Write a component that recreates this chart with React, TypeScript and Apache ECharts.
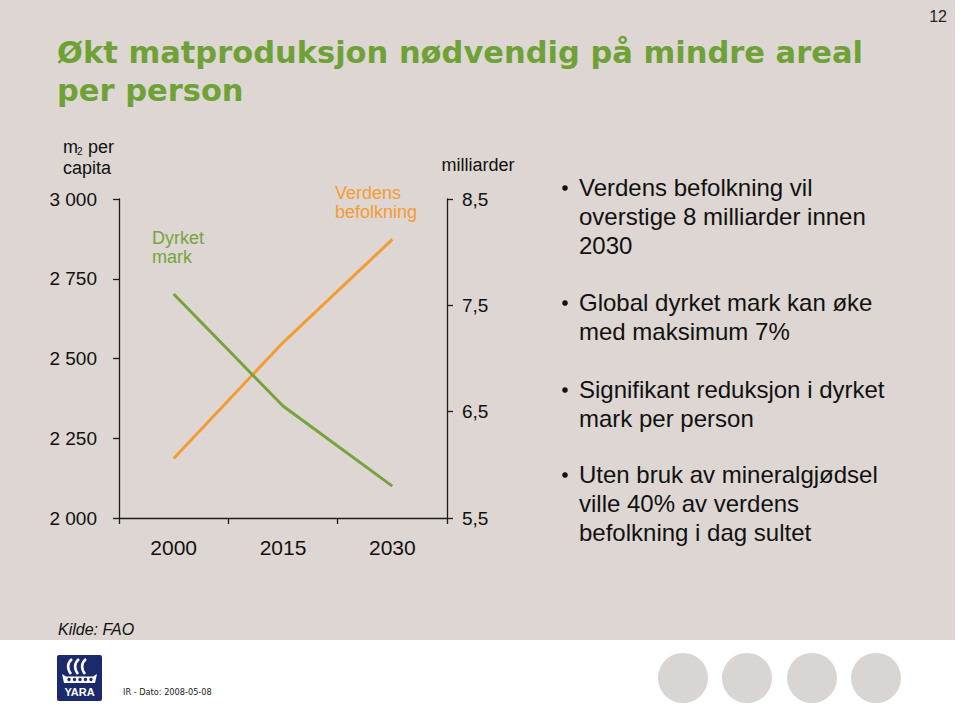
import React, { useEffect, useRef } from "react";
import * as echarts from "echarts";

// ---- data ----
const years = ["2000", "2015", "2030"];
const dyrketMark = [2702, 2351, 2100]; // m2 per capita (left axis)
const befolkning = [6.06, 7.15, 8.12]; // milliarder (right axis)
const leftMin = 2000;
const leftMax = 3000;
const leftInterval = 250;
const rightMin = 5.5;
const rightMax = 8.5;
const rightInterval = 1;

const titleLines = ["Økt matproduksjon nødvendig på mindre areal", "per person"];
const bullets = [
  ["Verdens befolkning vil", "overstige 8 milliarder innen", "2030"],
  ["Global dyrket mark kan øke", "med maksimum 7%"],
  ["Signifikant reduksjon i dyrket", "mark per person"],
  ["Uten bruk av mineralgjødsel", "ville 40% av verdens", "befolkning i dag sultet"],
];
const bulletTops = [187, 302, 389, 474];

const FONT = "'Liberation Sans', Arial, sans-serif";
const GREEN = "#76a43c";
const ORANGE = "#f49c34";
const TITLE_GREEN = "#6fa236";
const AXIS = "#1c1c1c";

echarts.graphic.registerShape(
  "yaraSails",
  echarts.graphic.extendPath(
    "M14 19 C10 14 10 8 15 4 M21 19 C17 14 17 8 22 4 M28 19 C24 14 24 8 29 4",
    {}
  )
);
echarts.graphic.registerShape(
  "yaraHull",
  echarts.graphic.extendPath("M5 19 L9 21.5 L36 21.5 L40 19 L38 28 L7 28 Z", {})
);

export default function App() {
  const ref = useRef<HTMLDivElement>(null);
  useEffect(() => {
    document.body.style.margin = "0";
    const chart = echarts.init(ref.current!, null, { renderer: "svg" });

    const graphics: any[] = [
      {
        type: "rect",
        z: -10,
        silent: true,
        shape: { x: 0, y: 0, width: 955, height: 640 },
        style: { fill: "#ddd6d2" },
      },
      {
        type: "text",
        x: 57,
        y: 33.5,
        style: {
          text: titleLines.join("\n"),
          fontFamily: "'DejaVu Sans', sans-serif",
          fontWeight: "bold",
          fontSize: 30.5,
          lineHeight: 38,
          fill: TITLE_GREEN,
          align: "left",
          verticalAlign: "top",
        },
      },
      {
        type: "text",
        x: 947,
        y: 16,
        style: { text: "12", fontFamily: FONT, fontSize: 16, fill: "#222", align: "right", verticalAlign: "middle" },
      },
      // left axis name
      { type: "text", x: 63, y: 146.5, style: { text: "m", fontFamily: FONT, fontSize: 18, fill: "#111", align: "left", verticalAlign: "middle" } },
      { type: "text", x: 77, y: 151.5, style: { text: "2", fontFamily: FONT, fontSize: 10, fill: "#111", align: "left", verticalAlign: "middle" } },
      { type: "text", x: 88, y: 146.5, style: { text: "per", fontFamily: FONT, fontSize: 18, fill: "#111", align: "left", verticalAlign: "middle" } },
      { type: "text", x: 63, y: 167.5, style: { text: "capita", fontFamily: FONT, fontSize: 18, fill: "#111", align: "left", verticalAlign: "middle" } },
      // right axis name
      { type: "text", x: 478, y: 165, style: { text: "milliarder", fontFamily: FONT, fontSize: 18, fill: "#111", align: "center", verticalAlign: "middle" } },
      // series annotations
      {
        type: "text",
        x: 152,
        y: 247,
        style: { text: "Dyrket\nmark", fontFamily: FONT, fontSize: 18, lineHeight: 19, fill: GREEN, align: "left", verticalAlign: "middle" },
      },
      {
        type: "text",
        x: 335,
        y: 202,
        style: { text: "Verdens\nbefolkning", fontFamily: FONT, fontSize: 18, lineHeight: 19, fill: ORANGE, align: "left", verticalAlign: "middle" },
      },
      // source
      {
        type: "text",
        x: 58,
        y: 629,
        style: { text: "Kilde: FAO", fontFamily: FONT, fontStyle: "italic", fontSize: 16, fill: "#111", align: "left", verticalAlign: "middle" },
      },
      // footer
      {
        type: "text",
        x: 123,
        y: 692,
        style: { text: "IR - Dato: 2008-05-08", fontFamily: "'DejaVu Sans', sans-serif", fontSize: 8.2, fill: "#222", align: "left", verticalAlign: "middle" },
      },
      // YARA logo
      {
        type: "group",
        x: 57,
        y: 655,
        children: [
          { type: "rect", shape: { x: 0, y: 0, width: 45, height: 46, r: 2 }, style: { fill: "#1b2a6b" } },
          { type: "yaraSails", style: { fill: "none", stroke: "#fff", lineWidth: 2.6 } },
          { type: "yaraHull", style: { fill: "#fff" } },
          ...[12, 17.5, 23, 28.5, 34].map((cx) => ({
            type: "circle",
            shape: { cx, cy: 24.5, r: 1.7 },
            style: { fill: "#1b2a6b" },
          })),
          {
            type: "text",
            x: 22.5,
            y: 37,
            style: { text: "YARA", fontFamily: FONT, fontWeight: "bold", fontSize: 11, fill: "#fff", align: "center", verticalAlign: "middle" },
          },
        ],
      },
      // decorative circles
      ...[683, 747, 812, 876].map((cx) => ({
        type: "circle",
        shape: { cx, cy: 678, r: 25 },
        style: { fill: "#d9d5d3" },
      })),
    ];

    bullets.forEach((lines, i) => {
      const top = bulletTops[i];
      graphics.push({
        type: "circle",
        shape: { cx: 565, cy: top + 1, r: 2.8 },
        style: { fill: "#111" },
      });
      lines.forEach((ln, j) => {
        graphics.push({
          type: "text",
          x: 579,
          y: top + j * 29,
          style: { text: ln, fontFamily: FONT, fontSize: 24, fill: "#111", align: "left", verticalAlign: "middle" },
        });
      });
    });

    chart.setOption({
      animation: false,
      backgroundColor: "#ffffff",
      grid: { left: 119, top: 199, width: 328, height: 319 },
      xAxis: {
        type: "category",
        data: years,
        boundaryGap: true,
        axisLine: { lineStyle: { color: AXIS, width: 1.3 } },
        axisTick: { show: true, length: 6, lineStyle: { color: AXIS, width: 1.3 } },
        axisLabel: { fontFamily: FONT, fontSize: 21, color: "#111", margin: 19 },
        splitLine: { show: false },
      },
      yAxis: [
        {
          type: "value",
          min: leftMin,
          max: leftMax,
          interval: leftInterval,
          position: "left",
          axisLine: { show: true, lineStyle: { color: AXIS, width: 1.3 } },
          axisTick: { show: true, length: 6, lineStyle: { color: AXIS, width: 1.3 } },
          axisLabel: {
            fontFamily: FONT,
            fontSize: 19,
            color: "#111",
            margin: 22,
            formatter: (v: number) => String(v).replace(/\B(?=(\d{3})+(?!\d))/g, " "),
          },
          splitLine: { show: false },
        },
        {
          type: "value",
          min: rightMin,
          max: rightMax,
          interval: rightInterval,
          position: "right",
          axisLine: { show: true, lineStyle: { color: AXIS, width: 1.3 } },
          axisTick: { show: true, length: 6, lineStyle: { color: AXIS, width: 1.3 } },
          axisLabel: {
            fontFamily: FONT,
            fontSize: 19,
            color: "#111",
            margin: 15,
            formatter: (v: number) => v.toFixed(1).replace(".", ","),
          },
          splitLine: { show: false },
        },
      ],
      series: [
        {
          name: "Dyrket mark",
          type: "line",
          yAxisIndex: 0,
          data: dyrketMark,
          symbol: "none",
          lineStyle: { color: GREEN, width: 3 },
          z: 3,
        },
        {
          name: "Verdens befolkning",
          type: "line",
          yAxisIndex: 1,
          data: befolkning,
          symbol: "none",
          lineStyle: { color: ORANGE, width: 3 },
          z: 2,
        },
      ],
      graphic: graphics,
    });
    return () => chart.dispose();
  }, []);
  return <div ref={ref} style={{ width: 960, height: 717 }} />;
}
